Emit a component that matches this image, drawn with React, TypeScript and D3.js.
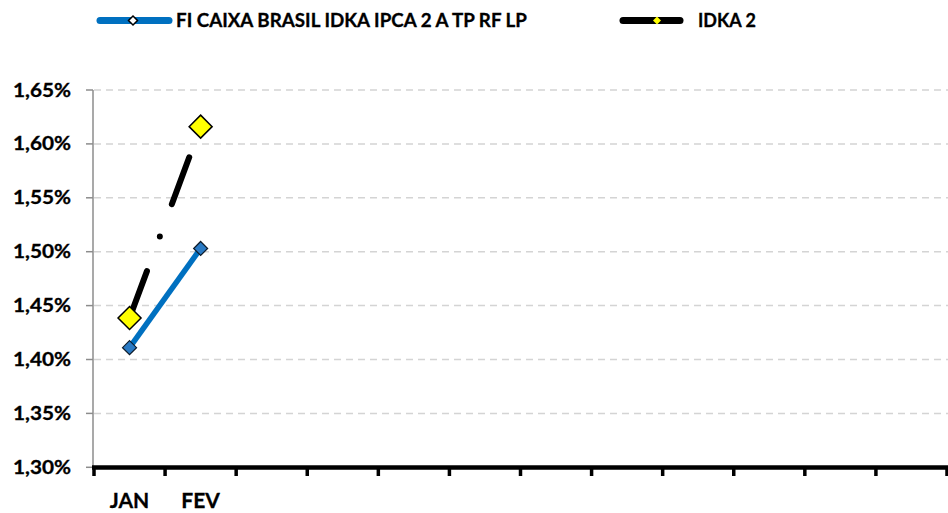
import React from "react";
import * as d3 from "d3";

const months = ["JAN", "FEV", "MAR", "ABR", "MAI", "JUN", "JUL", "AGO", "SET", "OUT", "NOV", "DEZ"];
const monthLabels = ["JAN", "FEV", "", "", "", "", "", "", "", "", "", ""];
const fundValues = [1.411, 1.503];
const idkaValues = [1.4385, 1.616];
const yTicks = [1.3, 1.35, 1.4, 1.45, 1.5, 1.55, 1.6, 1.65];
const seriesNames = ["FI CAIXA BRASIL IDKA IPCA 2 A TP RF LP", "IDKA 2"];

const W = 948;
const H = 513;
const FONT = "Lato, 'Open Sans', sans-serif";

export default function App() {
  const x = d3.scaleBand<string>().domain(months).range([94, 947]);
  const y = d3.scaleLinear().domain([1.3, 1.65]).range([467.3, 90]);
  const cx = (i: number) => (x(months[i]) as number) + x.bandwidth() / 2;

  const line = d3
    .line<number>()
    .x((_, i) => cx(i))
    .y((d) => y(d));

  const diamond = (px: number, py: number, r: number) =>
    `M${px},${py - r}L${px + r},${py}L${px},${py + r}L${px - r},${py}Z`;

  const fmt = (v: number) => v.toFixed(2).replace(".", ",") + "%";

  const x0 = 94;
  const x1 = 947;

  return (
    <svg
      width={W}
      height={H}
      style={{ position: "absolute", left: 0, top: 0, background: "#fff" }}
      fontFamily={FONT}
    >
      {/* gridlines */}
      {yTicks.slice(1).map((t) => (
        <line
          key={"g" + t}
          x1={x0}
          x2={x1 + 1}
          y1={y(t)}
          y2={y(t)}
          stroke="#d4d4d4"
          strokeWidth={1.5}
          strokeDasharray="7 5"
        />
      ))}
      {/* y axis */}
      <line x1={93} x2={93} y1={y(1.65)} y2={y(1.3)} stroke="#8c8c8c" strokeWidth={1.5} />
      {yTicks.map((t) => (
        <g key={"t" + t}>
          <line x1={86} x2={93} y1={y(t)} y2={y(t)} stroke="#8c8c8c" strokeWidth={1.5} />
          <text
            x={71}
            y={y(t) + 6.5}
            textAnchor="end"
            fontSize={18}
            fontWeight="bold"
            fill="#000"
            stroke="#000"
            strokeWidth={0.3}
            textLength={58}
            lengthAdjust="spacingAndGlyphs"
          >
            {fmt(t)}
          </text>
        </g>
      ))}
      {/* x axis */}
      <line x1={92} x2={948} y1={467.5} y2={467.5} stroke="#000" strokeWidth={4.5} />
      {months.concat(["end"]).map((m, i) => {
        const px = i < months.length ? (x(m) as number) : x1;
        return (
          <line
            key={"xt" + i}
            x1={px}
            x2={px}
            y1={468}
            y2={476}
            stroke="#000"
            strokeWidth={3.5}
          />
        );
      })}
      {monthLabels.map((m, i) =>
        m ? (
          <text
            key={"xl" + i}
            x={cx(i)}
            y={508}
            textAnchor="middle"
            fontSize={21}
            fontWeight="bold"
            fill="#000"
            stroke="#000"
            strokeWidth={0.3}
          >
            {m}
          </text>
        ) : null
      )}
      {/* series */}
      <path d={line(fundValues) || ""} fill="none" stroke="#0070C0" strokeWidth={5.5} />
      <path
        d={line(idkaValues) || ""}
        fill="none"
        stroke="#000"
        strokeWidth={6}
        strokeLinecap="round"
        strokeDasharray="50 37 0 34.4"
      />
      {fundValues.map((v, i) => (
        <path
          key={"fm" + i}
          d={diamond(cx(i), y(v), 7)}
          fill="#2A7AC4"
          stroke="#0d1b2a"
          strokeWidth={1.2}
        />
      ))}
      {idkaValues.map((v, i) => (
        <path
          key={"im" + i}
          d={diamond(cx(i), y(v), 11.5)}
          fill="#FFFF00"
          stroke="#000"
          strokeWidth={1.5}
        />
      ))}
      {/* legend */}
      <line x1={100} x2={169} y1={20.5} y2={20.5} stroke="#0070C0" strokeWidth={7} strokeLinecap="round" />
      <path d={diamond(133, 20.5, 4.5)} fill="#fff" stroke="#000" strokeWidth={1.5} />
      <text
        x={176}
        y={27}
        fontSize={18}
        fontWeight="bold"
        fill="#000"
        stroke="#000"
        strokeWidth={0.3}
        textLength={351}
        lengthAdjust="spacingAndGlyphs"
      >
        {seriesNames[0]}
      </text>
      <line x1={623} x2={680} y1={20.5} y2={20.5} stroke="#000" strokeWidth={7} strokeLinecap="round" />
      <path d={diamond(657, 20.5, 4)} fill="#FFFF00" stroke="none" />
      <text
        x={698}
        y={27}
        fontSize={18}
        fontWeight="bold"
        fill="#000"
        stroke="#000"
        strokeWidth={0.3}
        textLength={58}
        lengthAdjust="spacingAndGlyphs"
      >
        {seriesNames[1]}
      </text>
    </svg>
  );
}
